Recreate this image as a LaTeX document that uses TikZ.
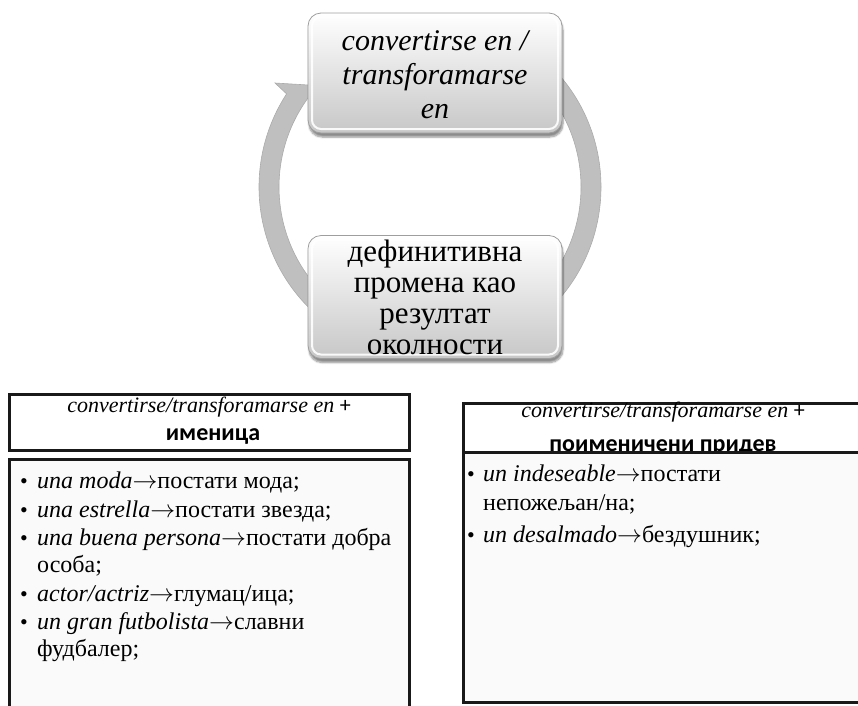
\documentclass[tikz,border=0pt]{standalone}
\usepackage{fontspec}
\setmainfont{Liberation Serif}
\newfontfamily\tnr{Liberation Serif}
\newfontfamily\hdrsans{Carlito}
\usetikzlibrary{shadows.blur,calc}
\newcommand{\toarrow}{\ensuremath{\rightarrow}}

\begin{document}
\begin{tikzpicture}[x=1pt,y=1pt,
  cyclebox/.style={draw=black!38, line width=0.8pt, rounded corners=13pt,
    top color=white, bottom color=black!22, align=center, inner sep=0pt,
    minimum width=254pt,
    path picture={\draw[white, line width=2pt, rounded corners=9pt, opacity=0.9]
      ([shift={(4pt,-4pt)}]path picture bounding box.north west) rectangle
      ([shift={(-4pt,4pt)}]path picture bounding box.south east);},
    blur shadow={shadow xshift=1pt, shadow yshift=-4pt, shadow blur steps=6, shadow opacity=45}},
  arcband/.style={fill=black!25, draw=black!33, line width=0.6pt},
  hdrbox/.style={draw=black!90, line width=3pt, fill=white},
  bodyframe/.style={draw=black!90, line width=3pt, fill=black!2},
  hdrtext/.style={anchor=base, inner sep=0pt, font=\tnr\fontsize{22}{26}\selectfont},
  hdrsub/.style={anchor=base, inner sep=0pt, font=\hdrsans\bfseries\fontsize{24}{28}\selectfont},
  listline/.style={anchor=base west, inner sep=0pt, font=\tnr\fontsize{24}{27.5}\selectfont},
  bulletmark/.style={anchor=base west, inner sep=0pt, font=\tnr\fontsize{22}{27.5}\selectfont}
]
\useasboundingbox (0,0) rectangle (858,-705);

% centre of the cycle
\coordinate (C) at (430,-187);

% left arc with its arrow head (rising towards the upper box)
\fill[arcband] ($(C)+(225:171)$) arc[start angle=225, end angle=147, radius=171]
  -- (275,-83) -- (325,-86) -- ($(C)+(140:151)$)
  arc[start angle=140, end angle=225, radius=151] -- cycle;
% right arc (descending towards the lower box)
\fill[arcband] ($(C)+(45:171)$) arc[start angle=45, end angle=-45, radius=171]
  -- ($(C)+(-45:151)$) arc[start angle=-45, end angle=45, radius=151] -- cycle;

% the two cycle boxes
\node[cyclebox, minimum height=120pt, font=\tnr\itshape\fontsize{30}{34}\selectfont]
  (conv) at (435,-73) {\strut convertirse en /\\transforamarse\\en};
\node[cyclebox, minimum height=123pt, font=\tnr\fontsize{31}{31}\selectfont]
  (change) at (435,-297) {дефинитивна\\промена као\\резултат\\околности};

% ---- left table: noun ----
\draw[hdrbox] (9,-394) rectangle (409,-450);
\node[hdrtext] (lh1) at (209,-412) {\itshape convertirse/transforamarse en \upshape\hdrsans +};
\node[hdrsub] (lh2) at (213,-440) {именица};
\draw[bodyframe] (9,-720) -- (9,-459) -- (409,-459) -- (409,-720);

\node[bulletmark] (lb1) at (20,-488.5) {•};
\node[listline] (l1) at (37,-488.5) {\textit{una moda}\toarrow постати мода;};
\node[bulletmark] (lb2) at (20,-517) {•};
\node[listline] (l2) at (37,-517) {\textit{una estrella}\toarrow постати звезда;};
\node[bulletmark] (lb3) at (20,-545.5) {•};
\node[listline] (l3) at (37,-545.5) {\textit{una buena persona}\toarrow постати добра};
\node[listline] (l3b) at (37,-572) {особа;};
\node[bulletmark] (lb4) at (20,-601) {•};
\node[listline] (l4) at (37,-601) {\textit{actor/actriz}\toarrow глумац/ица;};
\node[bulletmark] (lb5) at (20,-629) {•};
\node[listline] (l5) at (37,-629) {\textit{un gran futbolista}\toarrow славни};
\node[listline] (l5b) at (37,-656) {фудбалер;};

% ---- right table: nominalised adjective ----
\draw[hdrbox] (463,-403) rectangle (870,-452);
\node[hdrtext] (rh1) at (663,-417) {\itshape convertirse/transforamarse en \upshape\hdrsans +};
% the second header line runs under the top edge of the body frame
\node[hdrsub] (rh2) at (663,-451) {поименичени придев};
\draw[bodyframe] (870,-452) -- (463,-452) -- (463,-702) -- (870,-702);

\node[bulletmark] (rb1) at (467,-481) {•};
\node[listline] (r1) at (483,-481) {\textit{un indeseable}\toarrow постати};
\node[listline] (r1b) at (483,-510) {непожељан/на;};
\node[bulletmark] (rb2) at (467,-542) {•};
\node[listline] (r2) at (483,-542) {\textit{un desalmado}\toarrow бездушник;};
\end{tikzpicture}
\end{document}
